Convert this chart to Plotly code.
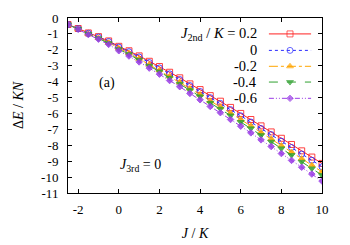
import plotly.graph_objects as go

J = [-2.5, -2, -1.5, -1, -0.5, 0, 0.5, 1, 1.5, 2, 2.5, 3, 3.5, 4, 4.5, 5,
     5.5, 6, 6.5, 7, 7.5, 8, 8.5, 9, 9.5, 10]

E_p02 = [-0.41, -0.66, -0.94, -1.17, -1.44, -1.78, -2.06, -2.38, -2.72, -3.05,
         -3.41, -3.76, -4.14, -4.50, -4.88, -5.23, -5.62, -6.00, -6.38, -6.78,
         -7.16, -7.56, -7.95, -8.35, -8.74, -9.14]
E_0 = [-0.41, -0.67, -0.96, -1.20, -1.48, -1.83, -2.12, -2.45, -2.80, -3.14,
       -3.51, -3.87, -4.25, -4.62, -5.01, -5.37, -5.76, -6.15, -6.54, -6.95,
       -7.33, -7.74, -8.14, -8.55, -8.94, -9.35]
E_m02 = [-0.41, -0.68, -0.99, -1.25, -1.55, -1.91, -2.22, -2.56, -2.93, -3.28,
         -3.66, -4.03, -4.43, -4.81, -5.21, -5.58, -5.98, -6.38, -6.78, -7.20,
         -7.60, -8.02, -8.43, -8.84, -9.25, -9.67]
E_m04 = [-0.41, -0.69, -1.01, -1.28, -1.59, -1.97, -2.28, -2.63, -3.01, -3.37,
         -3.76, -4.14, -4.54, -4.93, -5.34, -5.71, -6.13, -6.54, -6.94, -7.37,
         -7.78, -8.20, -8.62, -9.04, -9.46, -9.88]
E_m06 = [-0.41, -0.71, -1.04, -1.33, -1.66, -2.06, -2.39, -2.76, -3.15, -3.53,
         -3.93, -4.32, -4.74, -5.14, -5.56, -5.95, -6.38, -6.80, -7.22, -7.66,
         -8.08, -8.52, -8.95, -9.38, -9.81, -10.25]

legend_labels = ["<i>J</i><sub>2nd</sub> / <i>K</i> = 0.2", "0", "-0.2", "-0.4", "-0.6"]

x_ticks = [-2, 0, 2, 4, 6, 8, 10]
x_ticktext = ["-2", "0", "2", "4", "6", "8", "10"]
y_ticks = [0, -1, -2, -3, -4, -5, -6, -7, -8, -9, -10, -11]
y_ticktext = ["0", "-1", "-2", "-3", "-4", "-5", "-6", "-7", "-8", "-9", "-10", "-11"]

series = [E_p02, E_0, E_m02, E_m04, E_m06]
colors = ["#ff2020", "#2a2aff", "#ffa500", "#30a030", "#9a3ce6"]
dashes = ["solid", "dot", "dashdot", "dash", "5px,2px,1px,2px,1px,2px"]
symbols = ["square-open", "circle-open", "triangle-up", "triangle-down", "diamond"]
sizes = [6, 6, 6, 6, 5]

FONT = "Liberation Serif, Times New Roman, serif"

fig = go.Figure()
for ys, c, d, s, ms in zip(series, colors, dashes, symbols, sizes):
    fig.add_trace(go.Scatter(
        x=J, y=ys, mode="lines+markers",
        line=dict(color=c, width=1, dash=d),
        marker=dict(symbol=s, size=ms, color=c, opacity=0.85,
                    line=dict(color=c, width=1)),
        showlegend=False))

# key samples (gnuplot-like key) on an overlay axis in [0,1]
key_rows = [0.909, 0.815, 0.724, 0.634, 0.541]
for yk, c, d, s, ms in zip(key_rows, colors, dashes, symbols, sizes):
    fig.add_trace(go.Scatter(
        x=[0.791, 0.874, 0.957], y=[yk, yk, yk], mode="lines+markers",
        line=dict(color=c, width=1, dash=d),
        marker=dict(symbol=s, size=[0, ms, 0], color=c, line=dict(color=c, width=1)),
        xaxis="x2", yaxis="y2", showlegend=False, hoverinfo="skip"))

annotations = []
for yk, lab in zip(key_rows, legend_labels):
    annotations.append(dict(x=0.752, y=yk, xref="paper", yref="paper", text=lab,
                            showarrow=False, xanchor="right", yanchor="middle",
                            font=dict(family=FONT, size=14.5, color="black")))
annotations.append(dict(x=0.152, y=0.63, xref="paper", yref="paper", text="(a)",
                        showarrow=False, xanchor="center", yanchor="middle",
                        font=dict(family=FONT, size=14, color="black")))
annotations.append(dict(x=0.195, y=0.16, xref="paper", yref="paper",
                        text="<i>J</i><sub>3rd</sub> = 0",
                        showarrow=False, xanchor="left", yanchor="middle",
                        font=dict(family=FONT, size=14, color="black")))

axis_common = dict(showline=True, linecolor="black", linewidth=1, mirror="ticks",
                   ticks="inside", ticklen=4, tickcolor="black", showgrid=False,
                   zeroline=False, automargin=False,
                   tickfont=dict(family=FONT, size=13, color="black"))

fig.update_layout(
    width=350, height=245,
    margin=dict(l=68, r=28, t=18, b=52),
    paper_bgcolor="white", plot_bgcolor="white",
    xaxis=dict(range=[-2.5, 10], tickvals=x_ticks, ticktext=x_ticktext,
               ticklabelstandoff=4,
               title=dict(text="<i>J</i> / <i>K</i>",
                          font=dict(family=FONT, size=14, color="black"),
                          standoff=12),
               **axis_common),
    yaxis=dict(range=[-11, 0], tickvals=y_ticks, ticktext=y_ticktext,
               ticklabelstandoff=6,
               title=dict(text="Δ<i>E</i> / <i>KN</i>",
                          font=dict(family=FONT, size=14, color="black"),
                          standoff=14),
               **axis_common),
    xaxis2=dict(range=[0, 1], overlaying="x", visible=False, fixedrange=True),
    yaxis2=dict(range=[0, 1], overlaying="y", visible=False, fixedrange=True),
    annotations=annotations,
    showlegend=False,
)

fig.write_html("out.html",
               config={"displayModeBar": False},
               post_script="document.body.style.margin='0';document.body.style.overflow='hidden';")
